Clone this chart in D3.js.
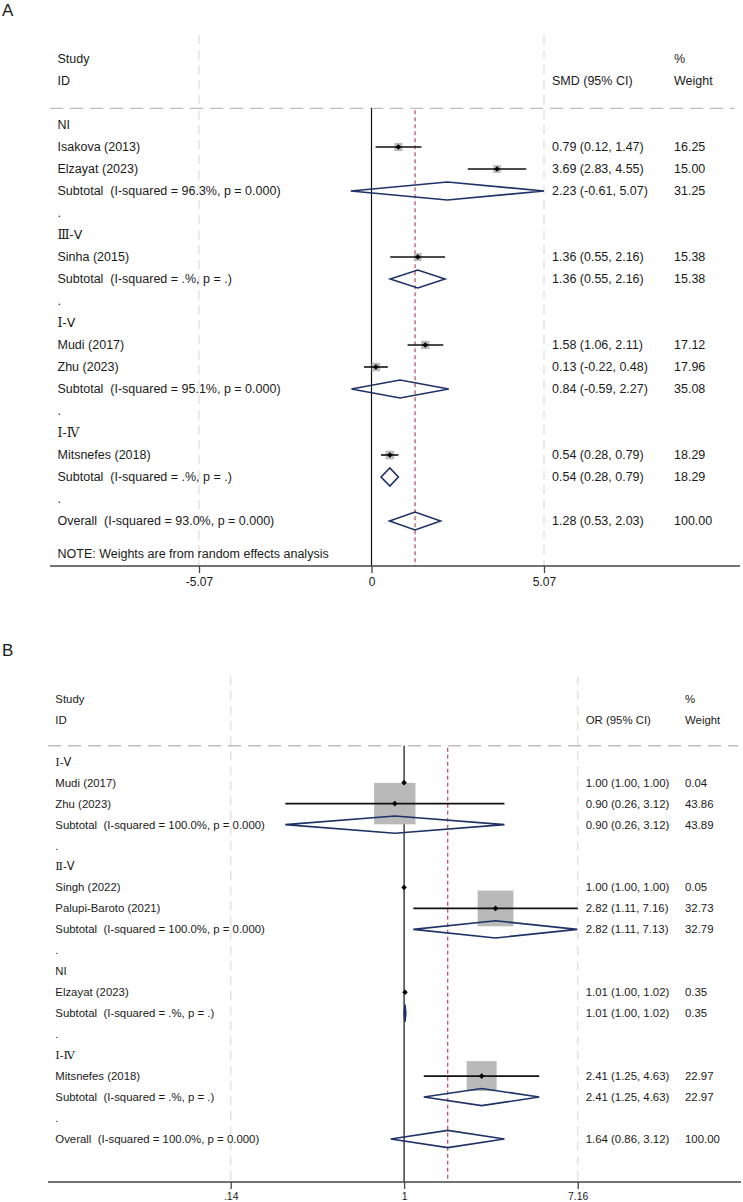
<!DOCTYPE html>
<html>
<head>
<meta charset="utf-8">
<script src="https://cdn.jsdelivr.net/npm/d3@7"></script>
<style>
  body { margin: 0; background: #fff; }
  svg { display: block; }
  text { font-family: "Liberation Sans", Arial, sans-serif; fill: #1a1a1a; white-space: pre; }
</style>
</head>
<body>
<svg id="chart"></svg>
<script>
// ---------- panel A (SMD) ----------
const groupsA = ["NI", "Ⅲ-Ⅴ", "Ⅰ-Ⅴ", "Ⅰ-Ⅳ"];
const studiesA = ["Isakova (2013)", "Elzayat (2023)", "Sinha (2015)", "Mudi (2017)", "Zhu (2023)", "Mitsnefes (2018)"];
const studyGroupA = [0, 0, 1, 2, 2, 3];
const estA = [0.79, 3.69, 1.36, 1.58, 0.13, 0.54];
const lowA = [0.12, 2.83, 0.55, 1.06, -0.22, 0.28];
const highA = [1.47, 4.55, 2.16, 2.11, 0.48, 0.79];
const weightA = [16.25, 15.00, 15.38, 17.12, 17.96, 18.29];
const subEstA = [2.23, 1.36, 0.84, 0.54];
const subLowA = [-0.61, 0.55, -0.59, 0.28];
const subHighA = [5.07, 2.16, 2.27, 0.79];
const subWeightA = [31.25, 15.38, 35.08, 18.29];
const subI2A = ["96.3%", ".%", "95.1%", ".%"];
const subPA = ["0.000", ".", "0.000", "."];
const overallA = [1.28, 0.53, 2.03];   // est, low, high
const overallWeightA = 100.00;
const overallStatA = ["93.0%", "0.000"];
const ticksA = [-5.07, 0, 5.07];
const tickLabelsA = ["-5.07", "0", "5.07"];

// ---------- panel B (OR) ----------
const groupsB = ["Ⅰ-Ⅴ", "Ⅱ-Ⅴ", "NI", "Ⅰ-Ⅳ"];
const studiesB = ["Mudi (2017)", "Zhu (2023)", "Singh (2022)", "Palupi-Baroto (2021)", "Elzayat (2023)", "Mitsnefes (2018)"];
const studyGroupB = [0, 0, 1, 1, 2, 3];
const estB = [1.00, 0.90, 1.00, 2.82, 1.01, 2.41];
const lowB = [1.00, 0.26, 1.00, 1.11, 1.00, 1.25];
const highB = [1.00, 3.12, 1.00, 7.16, 1.02, 4.63];
const weightB = [0.04, 43.86, 0.05, 32.73, 0.35, 22.97];
const subEstB = [0.90, 2.82, 1.01, 2.41];
const subLowB = [0.26, 1.11, 1.00, 1.25];
const subHighB = [3.12, 7.13, 1.02, 4.63];
const subWeightB = [43.89, 32.79, 0.35, 22.97];
const subI2B = ["100.0%", "100.0%", ".%", ".%"];
const subPB = ["0.000", "0.000", ".", "."];
const overallB = [1.64, 0.86, 3.12];
const overallWeightB = 100.00;
const overallStatB = ["100.0%", "0.000"];
const ticksB = [0.14, 1, 7.16];
const tickLabelsB = [".14", "1", "7.16"];

const width = 743, height = 1202;
const navy = "#1f3166", boxGrey = "#b9b9b9", refRed = "#b34a5c";

const svg = d3.select("#chart")
    .attr("width", width)
    .attr("height", height);

svg.append("rect").attr("width", width).attr("height", height).attr("fill", "#fff");

const fmt = v => v.toFixed(2);

// I..IV look serif in the original, V and the dash are sans
function groupLabel(sel, label) {
    for (const ch of label) {
        const serif = ch >= "\u2160" && ch <= "\u2163";
        const roman = ch >= "\u2160" && ch <= "\u217f";
        sel.append("tspan")
            .style("font-family", serif ? "'DejaVu Serif', serif" : (roman ? "'DejaVu Sans', sans-serif" : null))
            .text(ch);
    }
}

function drawPanel(p) {
    const g = svg.append("g");
    const x = p.scale;
    const step = p.step;
    const rowY = i => p.firstRow + i * step;
    const sepY = p.firstRow - 0.76 * step;
    const axisY = p.firstRow + 20.05 * step;
    const vTop = p.firstRow - 4.08 * step;
    const box = d3.scaleSqrt().domain([0, 100]).range([0, p.boxMax]);

    // rows: group header, studies, subtotal, spacer; then overall
    const rows = [];
    p.groups.forEach((name, gi) => {
        rows.push({ type: "group", label: name });
        p.studyGroup.forEach((sg, i) => { if (sg === gi) rows.push({ type: "study", i }); });
        rows.push({ type: "sub", i: gi });
        rows.push({ type: "dot" });
    });
    rows.push({ type: "overall" });
    rows.forEach((r, k) => r.y = rowY(k));

    // panel letter
    g.append("text")
        .attr("x", 2).attr("y", p.letterY)
        .attr("font-size", 17)
        .text(p.letter);

    // light dashed verticals at outer ticks
    g.selectAll(".vgrid")
        .data([p.ticks[0], p.ticks[p.ticks.length - 1]])
        .join("line")
        .attr("x1", d => x(d)).attr("x2", d => x(d))
        .attr("y1", vTop).attr("y2", axisY)
        .attr("stroke", "#e2e2e2")
        .attr("stroke-width", 1.5)
        .attr("stroke-dasharray", "9,6");

    // header separator
    g.append("line")
        .attr("x1", p.left).attr("x2", p.sepRight)
        .attr("y1", sepY).attr("y2", sepY)
        .attr("stroke", "#bdbdbd")
        .attr("stroke-width", 1.3)
        .attr("stroke-dasharray", "13,7");

    // null line and overall estimate line
    g.append("line")
        .attr("x1", x(p.ticks[1])).attr("x2", x(p.ticks[1]))
        .attr("y1", sepY).attr("y2", axisY)
        .attr("stroke", "#111").attr("stroke-width", 1.2);

    g.append("line")
        .attr("x1", x(p.overall[0])).attr("x2", x(p.overall[0]))
        .attr("y1", sepY + 2).attr("y2", axisY)
        .attr("stroke", refRed).attr("stroke-width", 1.2)
        .attr("stroke-dasharray", "4,3");

    // headers
    const fs = p.fontSize;
    const hdr = [
        ["Study", p.labelX, -3], ["ID", p.labelX, -2],
        [p.effLabel, p.estX, -2], ["%", p.wX, -3], ["Weight", p.wX, -2]
    ];
    g.selectAll(".hdr")
        .data(hdr)
        .join("text")
        .attr("x", d => d[1])
        .attr("y", d => rowY(d[2]))
        .attr("dy", "0.35em")
        .attr("font-size", fs)
        .text(d => d[0]);

    const studies = rows.filter(r => r.type === "study");
    const subs = rows.filter(r => r.type === "sub");

    // weight boxes
    g.selectAll(".box")
        .data(studies)
        .join("rect")
        .attr("x", r => x(p.est[r.i]) - box(p.weight[r.i]) / 2)
        .attr("y", r => r.y - box(p.weight[r.i]) / 2)
        .attr("width", r => box(p.weight[r.i]))
        .attr("height", r => box(p.weight[r.i]))
        .attr("fill", boxGrey);

    // confidence intervals
    g.selectAll(".ci")
        .data(studies)
        .join("line")
        .attr("x1", r => x(p.low[r.i])).attr("x2", r => x(p.high[r.i]))
        .attr("y1", r => r.y).attr("y2", r => r.y)
        .attr("stroke", "#111").attr("stroke-width", 1.6);

    // point markers
    g.selectAll(".pt")
        .data(studies)
        .join("path")
        .attr("d", r => {
            const cx = x(p.est[r.i]), cy = r.y, s = 2.8;
            return `M${cx},${cy - s}L${cx + s},${cy}L${cx},${cy + s}L${cx - s},${cy}Z`;
        })
        .attr("fill", "#000");

    // diamonds for subtotals and overall
    const diam = subs.map(r => ({ y: r.y, e: p.subEst[r.i], l: p.subLow[r.i], h: p.subHigh[r.i] }));
    const ov = rows[rows.length - 1];
    diam.push({ y: ov.y, e: p.overall[0], l: p.overall[1], h: p.overall[2] });
    const hh = 0.41 * step;
    g.selectAll(".diamond")
        .data(diam)
        .join("path")
        .attr("d", d => `M${x(d.l)},${d.y}L${x(d.e)},${d.y - hh}L${x(d.h)},${d.y}L${x(d.e)},${d.y + hh}Z`)
        .attr("fill", "none")
        .attr("stroke", navy)
        .attr("stroke-width", 1.6)
        .attr("stroke-linejoin", "miter");

    // left labels
    g.selectAll(".lab")
        .data(rows)
        .join("text")
        .attr("x", p.labelX)
        .attr("y", r => r.y)
        .attr("dy", "0.35em")
        .attr("font-size", fs)
        .each(function (r) {
            const t = d3.select(this);
            if (r.type === "group") groupLabel(t, r.label);
            else if (r.type === "study") t.text(p.studies[r.i]);
            else if (r.type === "sub") t.text(`Subtotal  (I-squared = ${p.subI2[r.i]}, p = ${p.subP[r.i]})`);
            else if (r.type === "dot") t.attr("fill", "#888").text(".");
            else t.text(`Overall  (I-squared = ${p.overallStat[0]}, p = ${p.overallStat[1]})`);
        });

    // estimate + weight columns
    const numRows = rows.filter(r => r.type === "study" || r.type === "sub" || r.type === "overall");
    const vals = r => r.type === "study" ? [p.est[r.i], p.low[r.i], p.high[r.i], p.weight[r.i]]
        : r.type === "sub" ? [p.subEst[r.i], p.subLow[r.i], p.subHigh[r.i], p.subWeight[r.i]]
        : [...p.overall, p.overallWeight];
    g.selectAll(".est")
        .data(numRows)
        .join("text")
        .attr("x", p.estX).attr("y", r => r.y).attr("dy", "0.35em")
        .attr("font-size", fs)
        .text(r => { const v = vals(r); return `${fmt(v[0])} (${fmt(v[1])}, ${fmt(v[2])})`; });
    g.selectAll(".wt")
        .data(numRows)
        .join("text")
        .attr("x", p.wX).attr("y", r => r.y).attr("dy", "0.35em")
        .attr("font-size", fs)
        .text(r => fmt(vals(r)[3]));

    if (p.note) {
        g.append("text")
            .attr("x", p.labelX).attr("y", rowY(19.5)).attr("dy", "0.35em")
            .attr("font-size", fs)
            .text(p.note);
    }

    // x axis
    g.append("line")
        .attr("x1", p.left).attr("x2", p.right)
        .attr("y1", axisY).attr("y2", axisY)
        .attr("stroke", "#444").attr("stroke-width", 1.5);
    const axis = d3.axisBottom(x)
        .tickValues(p.ticks)
        .tickFormat((d, i) => p.tickLabels[i])
        .tickSize(7)
        .tickPadding(4);
    const ax = g.append("g")
        .attr("transform", `translate(0,${axisY})`)
        .call(axis);
    ax.select(".domain").remove();
    ax.selectAll(".tick line").attr("stroke", "#444").attr("stroke-width", 1.3);
    ax.selectAll(".tick text")
        .attr("font-size", p.tickFont)
        .attr("font-family", "'Liberation Sans', Arial, sans-serif")
        .attr("fill", "#1a1a1a");
}

drawPanel({
    letter: "A", letterY: 16,
    groups: groupsA, studies: studiesA, studyGroup: studyGroupA,
    est: estA, low: lowA, high: highA, weight: weightA,
    subEst: subEstA, subLow: subLowA, subHigh: subHighA, subWeight: subWeightA,
    subI2: subI2A, subP: subPA,
    overall: overallA, overallWeight: overallWeightA, overallStat: overallStatA,
    ticks: ticksA, tickLabels: tickLabelsA,
    scale: d3.scaleLinear().domain([ticksA[0], ticksA[2]]).range([199, 544]),
    firstRow: 125, step: 22, fontSize: 12.5, tickFont: 12,
    labelX: 57.5, estX: 552, wX: 674,
    left: 50, right: 740, sepRight: 735,
    boxMax: 20,
    effLabel: "SMD (95% CI)",
    note: "NOTE: Weights are from random effects analysis"
});

drawPanel({
    letter: "B", letterY: 656,
    groups: groupsB, studies: studiesB, studyGroup: studyGroupB,
    est: estB, low: lowB, high: highB, weight: weightB,
    subEst: subEstB, subLow: subLowB, subHigh: subHighB, subWeight: subWeightB,
    subI2: subI2B, subP: subPB,
    overall: overallB, overallWeight: overallWeightB, overallStat: overallStatB,
    ticks: ticksB, tickLabels: tickLabelsB,
    scale: d3.scaleLog().domain([ticksB[0], ticksB[2]]).range([230.7, 577.7]),
    firstRow: 761.7, step: 20.96, fontSize: 11.4, tickFont: 10.5,
    labelX: 55.3, estX: 585.7, wX: 685,
    left: 48, right: 741, sepRight: 738,
    boxMax: 62.5,
    effLabel: "OR (95% CI)",
    note: null
});
</script>
</body>
</html>
